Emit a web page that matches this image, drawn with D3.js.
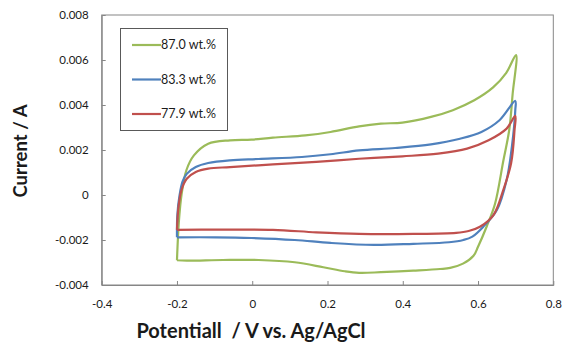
<!DOCTYPE html>
<html>
<head>
<meta charset="utf-8">
<title>CV curves</title>
<style>
  body { margin: 0; background: #fff; }
  text { font-family: Lato, "Open Sans", sans-serif; fill: #1a1a1a; }
</style>
<script src="https://d3js.org/d3.v7.min.js"></script>
</head>
<body>
<script>

// tick values
const xTicks = [-0.4, -0.2, 0, 0.2, 0.4, 0.6, 0.8];
const yTicks = [-0.004, -0.002, 0, 0.002, 0.004, 0.006, 0.008];

const seriesNames = ["87.0 wt.%", "83.3 wt.%", "77.9 wt.%"];
const seriesColors = ["#9bbb59", "#4f81bd", "#c0504d"];

// [potential V, current A], one closed loop per sample
const loop870 = [
  [-0.2, -0.0029], [-0.195, -0.0012], [-0.188, 0.0000], [-0.175, 0.0011], [-0.155, 0.00176],
  [-0.117, 0.00228], [-0.059, 0.00243], [-0.002, 0.00246], [0.055, 0.00255], [0.141, 0.00265],
  [0.208, 0.0028], [0.284, 0.00305], [0.342, 0.00317], [0.399, 0.00322], [0.475, 0.00347],
  [0.533, 0.00377], [0.59, 0.00421], [0.64, 0.00478], [0.675, 0.00543], [0.701, 0.00622],
  [0.692, 0.0045], [0.683, 0.0029], [0.667, 0.0015], [0.645, -0.0004], [0.623, -0.0014],
  [0.6, -0.0023], [0.588, -0.0027], [0.56, -0.00305], [0.526, -0.00324], [0.499, -0.00329],
  [0.428, -0.00336], [0.342, -0.00343], [0.284, -0.00346],
  [0.246, -0.00339], [0.189, -0.00321], [0.113, -0.00299], [0.017, -0.00289], [-0.078, -0.00289],
  [-0.174, -0.00292], [-0.2, -0.0029]
];

const loop833 = [
  [-0.2, -0.00188], [-0.199, -0.0009], [-0.193, 0.0000], [-0.185, 0.0006], [-0.174, 0.00094],
  [-0.15, 0.00124], [-0.117, 0.00142], [-0.059, 0.00154], [0.017, 0.0016], [0.132, 0.00169],
  [0.208, 0.00181], [0.284, 0.00198], [0.38, 0.00209], [0.475, 0.00225], [0.552, 0.0025],
  [0.609, 0.0028], [0.657, 0.00332], [0.699, 0.00418],
  [0.699, 0.00377], [0.69, 0.00215], [0.676, 0.00067], [0.65, -0.00067], [0.614, -0.00141],
  [0.585, -0.00185], [0.561, -0.002], [0.523, -0.0021], [0.428, -0.00217], [0.323, -0.00222],
  [0.208, -0.00213], [0.113, -0.002], [-0.002, -0.00191], [-0.097, -0.00188], [-0.2, -0.00188]
];

const loop779 = [
  [-0.2, -0.00155], [-0.196, -0.00054], [-0.188, 0.00022], [-0.174, 0.00072], [-0.15, 0.00102],
  [-0.117, 0.00117], [-0.059, 0.00124], [0.055, 0.00136], [0.17, 0.00147], [0.284, 0.00161],
  [0.399, 0.00172], [0.494, 0.00184], [0.571, 0.00206], [0.628, 0.00243], [0.676, 0.00295],
  [0.699, 0.00352],
  [0.697, 0.00289], [0.688, 0.00142], [0.667, 0.00022], [0.641, -0.00089], [0.605, -0.00141],
  [0.575, -0.0016], [0.542, -0.00168], [0.428, -0.00173], [0.284, -0.00173], [0.17, -0.00166],
  [0.055, -0.00155], [-0.097, -0.00154], [-0.2, -0.00155]
];

const loops = [loop870, loop833, loop779];

const W = 562, H = 347;
const plotLeft = 101.7, plotRight = 553.3, plotTop = 15, plotBottom = 285;

const svg = d3.select("body").append("svg")
  .attr("width", W).attr("height", H);

const x = d3.scaleLinear().domain([-0.4, 0.8]).range([plotLeft, plotRight]);
const y = d3.scaleLinear().domain([-0.004, 0.008]).range([plotBottom, plotTop]);

// plot frame
svg.append("rect")
  .attr("x", plotLeft).attr("y", plotTop)
  .attr("width", plotRight - plotLeft).attr("height", plotBottom - plotTop)
  .attr("fill", "none").attr("stroke", "#868686").attr("stroke-width", 1);

// axes with inside ticks
let xAxis = svg.append("g")
  .attr("transform", "translate(0," + plotBottom + ")")
  .call(d3.axisBottom(x).tickValues(xTicks).tickSize(-4).tickPadding(15)
    .tickFormat(d => d === 0 ? "0" : d3.format(".1f")(d).replace("−", "-")));
let yAxis = svg.append("g")
  .attr("transform", "translate(" + plotLeft + ",0)")
  .call(d3.axisLeft(y).tickValues(yTicks).tickSize(-4).tickPadding(13)
    .tickFormat(d => d === 0 ? "0" : d3.format(".3f")(d).replace("−", "-")));

[xAxis, yAxis].forEach(a => {
  a.select(".domain").attr("stroke", "#868686");
  a.selectAll(".tick line").attr("stroke", "#868686");
  a.selectAll(".tick text").attr("font-size", 11.5).attr("fill", "#1a1a1a")
    .attr("font-family", "Lato, sans-serif");
});
xAxis.selectAll(".tick").filter(d => d === 0.8 || d === -0.4).select("line").remove();
yAxis.selectAll(".tick").filter(d => d === 0.008 || d === -0.004).select("line").remove();

// curves
const line = d3.line()
  .x(d => x(d[0])).y(d => y(d[1]))
  .curve(d3.curveCatmullRom.alpha(0.5));

svg.selectAll("path.loop").data(loops).join("path")
  .attr("class", "loop")
  .attr("d", line)
  .attr("fill", "none")
  .attr("stroke", (d, i) => seriesColors[i])
  .attr("stroke-width", 2.2)
  .attr("stroke-linejoin", "round");

// legend
const lg = svg.append("g");
lg.append("rect")
  .attr("x", 120.5).attr("y", 28.5).attr("width", 107).attr("height", 102)
  .attr("fill", "#fff").attr("stroke", "#595959").attr("stroke-width", 1);
seriesNames.forEach((name, i) => {
  const ly = 45 + i * 34.5;
  lg.append("line")
    .attr("x1", 132).attr("x2", 161).attr("y1", ly).attr("y2", ly)
    .attr("stroke", seriesColors[i]).attr("stroke-width", 2.2);
  lg.append("text")
    .attr("x", 161).attr("y", ly).attr("dy", "0.35em")
    .attr("font-size", 12.5).text(name);
});

// axis titles
svg.append("text")
  .attr("x", 251).attr("y", 331).attr("dy", "0.35em")
  .attr("text-anchor", "middle").attr("font-size", 20).attr("font-weight", "bold")
  .attr("xml:space", "preserve")
  .text("Potentiall  / V vs. Ag/AgCl");

svg.append("text")
  .attr("transform", "translate(21,151) rotate(-90)")
  .attr("dy", "0.35em")
  .attr("text-anchor", "middle").attr("font-size", 18.5).attr("font-weight", "bold")
  .text("Current / A");

</script>
</body>
</html>
